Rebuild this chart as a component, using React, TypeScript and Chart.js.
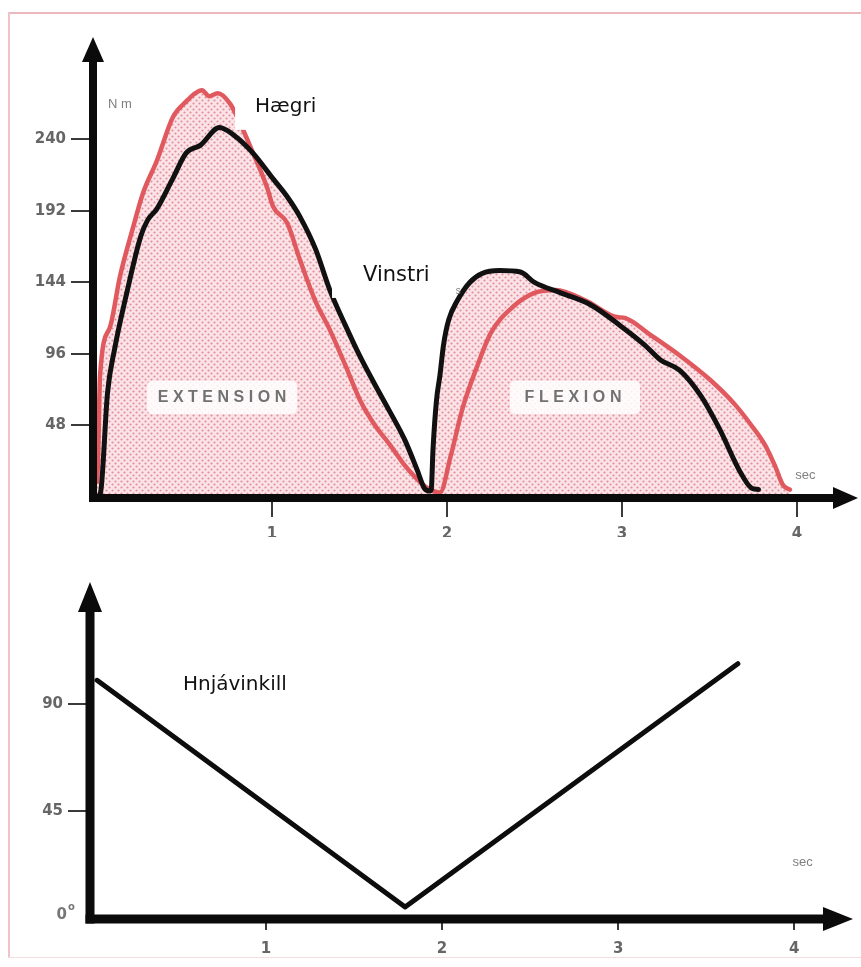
import React, { useEffect, useRef } from 'react';
import { Chart, registerables } from 'chart.js';

Chart.register(...registerables);

// ---------- data ----------
const TORQUE_X_TICKS = [1, 2, 3, 4];
const TORQUE_Y_TICKS = [48, 96, 144, 192, 240];
const ANGLE_X_TICKS = [1, 2, 3, 4];
const ANGLE_Y_TICKS = [45, 90];

// Vinstri (left leg) – black curve, seconds / Nm
const VINSTRI_T = [0, 0.02, 0.06, 0.1, 0.17, 0.25, 0.29, 0.34, 0.43, 0.51, 0.59, 0.7, 0.78, 0.89, 1.01, 1.09, 1.16, 1.25, 1.33, 1.42, 1.5, 1.59, 1.67, 1.76, 1.83, 1.87, 1.9, 1.91, 1.92, 1.94, 1.96, 1.98, 2.01, 2.06, 2.13, 2.2, 2.3, 2.42, 2.5, 2.65, 2.82, 2.99, 3.13, 3.22, 3.33, 3.45, 3.56, 3.67, 3.74, 3.78];
const VINSTRI_NM = [0, 3, 70, 99, 137, 175, 186, 193, 213, 231, 236, 248, 243, 231, 213, 201, 188, 166, 139, 115, 95, 75, 58, 38, 18, 6, 4, 5, 32, 65, 82, 102, 119, 132, 144, 150, 152, 151, 144, 137, 129, 115, 102, 92, 85, 68, 45, 18, 6, 5];

// Hægri (right leg) – red curve, seconds / Nm
const HAEGRI_T = [0, 0.006, 0.017, 0.074, 0.131, 0.206, 0.263, 0.343, 0.434, 0.514, 0.55, 0.6, 0.64, 0.69, 0.76, 0.817, 0.891, 0.971, 1.006, 1.086, 1.16, 1.246, 1.331, 1.417, 1.503, 1.589, 1.674, 1.76, 1.846, 1.903, 1.96, 2.02, 2.09, 2.17, 2.25, 2.38, 2.5, 2.62, 2.79, 2.96, 3.02, 3.16, 3.33, 3.5, 3.646, 3.74, 3.817, 3.874, 3.92, 3.96];
const HAEGRI_NM = [10, 25, 81, 114, 148, 181, 204, 226, 255, 266, 270, 273, 269, 271, 264, 251, 231, 208, 195, 184, 159, 132, 112, 89, 65, 48, 35, 21, 10, 5, 3, 27, 60, 87, 110, 128, 137, 139, 132, 121, 120, 109, 95, 79, 62, 48, 35, 21, 8, 5];

// Hnjávinkill (knee angle), seconds / degrees
const ANGLE_T = [0.04, 1.79, 3.68];
const ANGLE_DEG = [100, 4.6, 107];

// ---------- helpers ----------
function makePattern(): CanvasPattern | string {
  const c = document.createElement('canvas');
  c.width = 6;
  c.height = 6;
  const g = c.getContext('2d');
  if (!g) return '#f7d9de';
  g.fillStyle = '#fbe3e7';
  g.fillRect(0, 0, 6, 6);
  g.fillStyle = '#e08d9a';
  [[1.5, 1.5], [4.5, 4.5]].forEach(([x, y]) => {
    g.beginPath();
    g.arc(x, y, 1.05, 0, Math.PI * 2);
    g.fill();
  });
  return g.createPattern(c, 'repeat') || '#f7d9de';
}

function spacedText(ctx: CanvasRenderingContext2D, text: string, cx: number, cy: number, spacing: number) {
  const chars = Array.from(text);
  const widths = chars.map((ch) => ctx.measureText(ch).width);
  const total = widths.reduce((a, b) => a + b, 0) + spacing * (chars.length - 1);
  let xx = cx - total / 2;
  ctx.textAlign = 'left';
  ctx.textBaseline = 'middle';
  chars.forEach((ch, i) => {
    ctx.fillText(ch, xx, cy);
    xx += widths[i] + spacing;
  });
}

function roundRect(ctx: CanvasRenderingContext2D, x: number, y: number, w: number, h: number, r: number) {
  ctx.beginPath();
  ctx.moveTo(x + r, y);
  ctx.lineTo(x + w - r, y);
  ctx.quadraticCurveTo(x + w, y, x + w, y + r);
  ctx.lineTo(x + w, y + h - r);
  ctx.quadraticCurveTo(x + w, y + h, x + w - r, y + h);
  ctx.lineTo(x + r, y + h);
  ctx.quadraticCurveTo(x, y + h, x, y + h - r);
  ctx.lineTo(x, y + r);
  ctx.quadraticCurveTo(x, y, x + r, y);
  ctx.closePath();
}

function drawArrowAxes(
  ctx: CanvasRenderingContext2D,
  ax: number,
  ay: number,
  yTip: number,
  xTip: number,
  w: number,
  head: number,
  headLen: number
) {
  ctx.save();
  ctx.strokeStyle = '#0b0b0b';
  ctx.fillStyle = '#0b0b0b';
  ctx.lineWidth = w;
  ctx.lineCap = 'butt';
  ctx.beginPath();
  ctx.moveTo(ax, ay + w / 2);
  ctx.lineTo(ax, yTip + headLen - 2);
  ctx.stroke();
  ctx.beginPath();
  ctx.moveTo(ax, yTip);
  ctx.lineTo(ax - head, yTip + headLen);
  ctx.lineTo(ax + head, yTip + headLen);
  ctx.closePath();
  ctx.fill();
  ctx.beginPath();
  ctx.moveTo(ax - w / 2, ay);
  ctx.lineTo(xTip - headLen + 2, ay);
  ctx.stroke();
  ctx.beginPath();
  ctx.moveTo(xTip, ay);
  ctx.lineTo(xTip - headLen, ay - head);
  ctx.lineTo(xTip - headLen, ay + head);
  ctx.closePath();
  ctx.fill();
  ctx.restore();
}

const tickFont = { family: 'DejaVu Sans', weight: 'bold' as const, size: 15 };

// ---------- plugins ----------
const torqueDecor = {
  id: 'torqueDecor',
  afterDatasetsDraw(chart: any) {
    const { ctx, chartArea: a, scales } = chart;
    const px = (t: number) => scales.x.getPixelForValue(t);
    const py = (v: number) => scales.y.getPixelForValue(v);
    ctx.save();

    ctx.fillStyle = 'rgba(255,255,255,0.85)';
    roundRect(ctx, px(0.286), py(78), px(1.143) - px(0.286), py(55.7) - py(78), 6);
    ctx.fill();
    roundRect(ctx, px(2.36), py(78), px(3.103) - px(2.36), py(55.7) - py(78), 6);
    ctx.fill();
    ctx.fillStyle = '#717171';
    ctx.font = 'bold 16px "Liberation Sans"';
    spacedText(ctx, 'EXTENSION', px(0.714), py(66.5), 4.5);
    spacedText(ctx, 'FLEXION', px(2.72), py(66.5), 4.6);

    ctx.fillStyle = '#ffffff';
    ctx.fillRect(px(0.789), py(278.6), px(1.36) - px(0.789), py(246.4) - py(278.6));
    ctx.fillRect(px(1.343), py(169), px(2.017) - px(1.343), py(133.6) - py(169));
    ctx.fillStyle = '#111111';
    ctx.textAlign = 'left';
    ctx.textBaseline = 'alphabetic';
    ctx.font = '20px "DejaVu Sans"';
    ctx.fillText('Hægri', px(0.903), py(258.5));
    ctx.font = '21px "DejaVu Sans"';
    ctx.fillText('Vinstri', px(1.52), py(145));

    ctx.fillStyle = '#808080';
    ctx.font = '13px "Liberation Sans"';
    ctx.fillText('N m', px(0.063), py(261));
    ctx.fillText('sec', px(3.99), py(12));
    ctx.font = '10px "Liberation Sans"';
    ctx.fillText('s', px(2.05), py(136));

    drawArrowAxes(ctx, a.left, a.bottom + 1, a.top - 13, a.right + 8, 8, 11, 25);
    ctx.restore();
  },
};

const angleDecor = {
  id: 'angleDecor',
  afterDatasetsDraw(chart: any) {
    const { ctx, chartArea: a, scales } = chart;
    const px = (t: number) => scales.x.getPixelForValue(t);
    const py = (v: number) => scales.y.getPixelForValue(v);
    ctx.save();
    ctx.fillStyle = '#ffffff';
    ctx.fillRect(px(0.41), py(109), px(1.19) - px(0.41), py(82) - py(109));
    ctx.fillStyle = '#111111';
    ctx.textAlign = 'left';
    ctx.textBaseline = 'alphabetic';
    ctx.font = '20px "DejaVu Sans"';
    ctx.fillText('Hnjávinkill', px(0.528), py(96));

    ctx.fillStyle = '#808080';
    ctx.font = '13px "Liberation Sans"';
    ctx.fillText('sec', px(3.99), py(22));

    ctx.fillStyle = '#777777';
    ctx.font = 'bold 15px "DejaVu Sans"';
    ctx.textAlign = 'right';
    ctx.textBaseline = 'middle';
    ctx.fillText('0', a.left - 23, py(0) - 3);
    ctx.font = 'bold 10px "DejaVu Sans"';
    ctx.textAlign = 'left';
    ctx.fillText('o', a.left - 22, py(0) - 11);

    drawArrowAxes(ctx, a.left, a.bottom + 1, a.top - 27, a.right + 6, 9, 12, 30);
    ctx.restore();
  },
};

function tickScale(ticksArr: number[], tickLength: number, pad: number, extra: any) {
  return {
    type: 'linear' as const,
    afterBuildTicks: (s: any) => {
      s.ticks = ticksArr.map((v) => ({ value: v }));
    },
    grid: {
      display: true,
      drawOnChartArea: false,
      drawTicks: true,
      tickLength,
      color: '#3a3a3a',
      lineWidth: 2,
    },
    border: { display: false },
    ticks: { color: '#666666', font: tickFont, padding: pad },
    ...extra,
  };
}

export default function App() {
  const topRef = useRef<HTMLCanvasElement | null>(null);
  const botRef = useRef<HTMLCanvasElement | null>(null);

  useEffect(() => {
    if (!topRef.current || !botRef.current) return;
    const pattern = makePattern();

    const top = new Chart(topRef.current, {
      type: 'line',
      data: {
        datasets: [
          {
            label: 'Vinstri',
            data: VINSTRI_T.map((t, i) => ({ x: t, y: VINSTRI_NM[i] })),
            borderColor: '#111111',
            borderWidth: 5,
            backgroundColor: pattern as any,
            fill: 'origin',
            pointRadius: 0,
            cubicInterpolationMode: 'monotone',
            borderJoinStyle: 'round',
            borderCapStyle: 'round',
          },
          {
            label: 'Hægri',
            data: HAEGRI_T.map((t, i) => ({ x: t, y: HAEGRI_NM[i] })),
            borderColor: '#e0595f',
            borderWidth: 4.5,
            backgroundColor: pattern as any,
            fill: 'origin',
            pointRadius: 0,
            cubicInterpolationMode: 'monotone',
            borderJoinStyle: 'round',
            borderCapStyle: 'round',
          },
        ],
      },
      options: {
        responsive: false,
        animation: false,
        events: [],
        layout: { padding: { left: 0, top: 50, right: 11, bottom: 0 } },
        plugins: {
          legend: { display: false },
          tooltip: { enabled: false },
          filler: { drawTime: 'beforeDatasetsDraw' },
        } as any,
        scales: {
          x: tickScale(TORQUE_X_TICKS, 20, 8, {
            min: -0.023,
            max: 4.303,
            afterFit: (s: any) => {
              s.height = 40;
            },
          }),
          y: tickScale(TORQUE_Y_TICKS, 22, 5, {
            min: 0,
            max: 300,
            afterFit: (s: any) => {
              s.width = 93;
            },
          }),
        } as any,
      },
      plugins: [torqueDecor],
    });

    const bottom = new Chart(botRef.current, {
      type: 'line',
      data: {
        datasets: [
          {
            label: 'Hnjávinkill',
            data: ANGLE_T.map((t, i) => ({ x: t, y: ANGLE_DEG[i] })),
            borderColor: '#0d0d0d',
            borderWidth: 5,
            fill: false,
            pointRadius: 0,
            tension: 0,
            borderJoinStyle: 'round',
            borderCapStyle: 'round',
          },
        ],
      },
      options: {
        responsive: false,
        animation: false,
        events: [],
        layout: { padding: { left: 0, top: 72, right: 14, bottom: 0 } },
        plugins: { legend: { display: false }, tooltip: { enabled: false } },
        scales: {
          x: tickScale(ANGLE_X_TICKS, 12, 10, {
            min: 0,
            max: 4.3,
            afterFit: (s: any) => {
              s.height = 49;
            },
          }),
          y: tickScale(ANGLE_Y_TICKS, 22, 5, {
            min: 0,
            max: 130,
            afterFit: (s: any) => {
              s.width = 90;
            },
          }),
        } as any,
      },
      plugins: [angleDecor],
    });

    return () => {
      top.destroy();
      bottom.destroy();
    };
  }, []);

  return (
    <div
      style={{
        position: 'absolute',
        left: 0,
        top: 0,
        width: 861,
        height: 967,
        background: '#ffffff',
        overflow: 'hidden',
      }}
    >
      <div style={{ position: 'absolute', left: 8, top: 12, width: 853, height: 2, background: '#ecb7be' }} />
      <div style={{ position: 'absolute', left: 8, top: 12, width: 2, height: 946, background: '#efc3c8' }} />
      <div style={{ position: 'absolute', left: 8, top: 957, width: 853, height: 1, background: '#f6dde0' }} />
      <canvas
        ref={topRef}
        width={861}
        height={537}
        style={{ position: 'absolute', left: 0, top: 0, width: 861, height: 537 }}
      />
      <canvas
        ref={botRef}
        width={861}
        height={430}
        style={{ position: 'absolute', left: 0, top: 537, width: 861, height: 430 }}
      />
    </div>
  );
}
